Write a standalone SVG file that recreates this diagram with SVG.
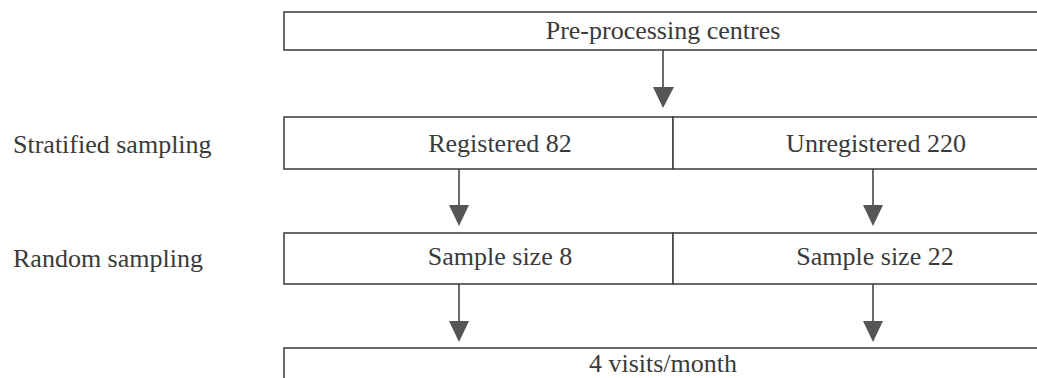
<svg xmlns="http://www.w3.org/2000/svg" width="1037" height="378" viewBox="0 0 1037 378">
<style>
.box{fill:#fff;stroke:#444;stroke-width:1.6}
.t{font-family:"Liberation Serif",serif;font-size:26px;fill:#3a3a3a;text-anchor:middle}
.l{font-family:"Liberation Serif",serif;font-size:26px;fill:#3a3a3a}
.c{stroke:#444;stroke-width:1.6;fill:none}
.ah{fill:#555}
</style>
<rect width="1037" height="378" fill="#fff"/>
<text class="l" x="13" y="153">Stratified sampling</text>
<text class="l" x="13" y="267">Random sampling</text>
<g id="n-preprocessing">
<rect class="box" x="284" y="12" width="780" height="38"/>
<text class="t" x="663" y="39">Pre-processing centres</text>
</g>
<g id="n-registered">
<rect class="box" x="284" y="117" width="389" height="52"/>
<text class="t" x="500" y="152">Registered 82</text>
</g>
<g id="n-unregistered">
<rect class="box" x="673" y="117" width="400" height="52"/>
<text class="t" x="876" y="152">Unregistered 220</text>
</g>
<g id="n-sample8">
<rect class="box" x="284" y="233" width="389" height="51"/>
<text class="t" x="500" y="265">Sample size 8</text>
</g>
<g id="n-sample22">
<rect class="box" x="673" y="233" width="400" height="51"/>
<text class="t" x="875" y="265">Sample size 22</text>
</g>
<g id="n-visits">
<rect class="box" x="284" y="348" width="780" height="50"/>
<text class="t" x="663" y="372">4 visits/month</text>
</g>
<g id="connectors">
<line class="c" x1="663" y1="50" x2="663" y2="90"/>
<polygon class="ah" points="653,87 674,87 663,108"/>
<line class="c" x1="459" y1="169" x2="459" y2="207"/>
<polygon class="ah" points="449,205 469,205 459,226"/>
<line class="c" x1="873" y1="169" x2="873" y2="207"/>
<polygon class="ah" points="863,205 883,205 873,226"/>
<line class="c" x1="459" y1="284" x2="459" y2="323"/>
<polygon class="ah" points="449,321 469,321 459,342"/>
<line class="c" x1="873" y1="284" x2="873" y2="323"/>
<polygon class="ah" points="863,321 883,321 873,342"/>
</g>
</svg>
